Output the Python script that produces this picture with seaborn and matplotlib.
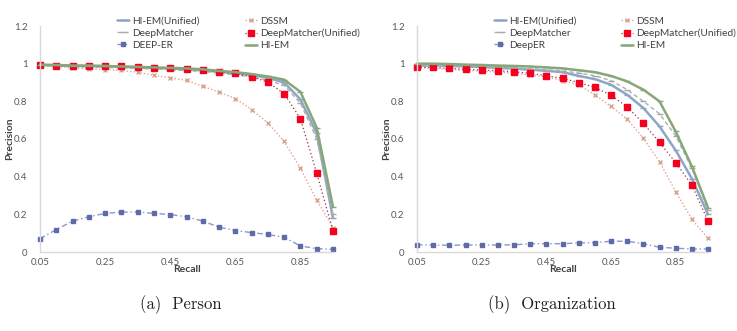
import numpy as np
import pandas as pd
import matplotlib
matplotlib.use("Agg")
import matplotlib.pyplot as plt
import seaborn as sns

recall = [0.05, 0.10, 0.15, 0.20, 0.25, 0.30, 0.35, 0.40, 0.45, 0.50,
          0.55, 0.60, 0.65, 0.70, 0.75, 0.80, 0.85, 0.90, 0.95]
xtick_vals = [0.05, 0.25, 0.45, 0.65, 0.85]
ytick_vals = [0, 0.2, 0.4, 0.6, 0.8, 1, 1.2]

# Person panel
p_hiem_unified = [0.993, 0.99, 0.988, 0.987, 0.985, 0.983, 0.98, 0.977, 0.974, 0.97,
                  0.965, 0.957, 0.95, 0.94, 0.925, 0.90, 0.81, 0.63, 0.18]
p_dssm = [0.99, 0.985, 0.978, 0.972, 0.968, 0.964, 0.955, 0.938, 0.925, 0.911,
          0.88, 0.849, 0.815, 0.756, 0.685, 0.587, 0.445, 0.276, 0.13]
p_deepmatcher = [0.99, 0.988, 0.985, 0.983, 0.98, 0.978, 0.975, 0.972, 0.968, 0.963,
                 0.958, 0.95, 0.94, 0.93, 0.912, 0.885, 0.79, 0.60, 0.20]
p_deepmatcher_unified = [0.995, 0.99, 0.985, 0.985, 0.985, 0.985, 0.98, 0.978, 0.975, 0.97,
                         0.968, 0.955, 0.948, 0.93, 0.902, 0.84, 0.708, 0.418, 0.112]
p_deeper = [0.071, 0.119, 0.164, 0.187, 0.205, 0.212, 0.212, 0.205, 0.199, 0.187,
            0.164, 0.132, 0.114, 0.103, 0.093, 0.078, 0.032, 0.018, 0.014]
p_hiem = [0.995, 0.993, 0.99, 0.99, 0.988, 0.985, 0.983, 0.98, 0.978, 0.975,
          0.97, 0.962, 0.955, 0.945, 0.932, 0.915, 0.85, 0.66, 0.24]

# Organization panel
o_hiem_unified = [0.99, 0.99, 0.988, 0.985, 0.982, 0.978, 0.974, 0.968, 0.962, 0.955,
                  0.935, 0.918, 0.888, 0.835, 0.765, 0.667, 0.54, 0.39, 0.20]
o_dssm = [0.98, 0.975, 0.97, 0.965, 0.96, 0.955, 0.95, 0.94, 0.93, 0.91,
          0.888, 0.835, 0.773, 0.706, 0.605, 0.48, 0.32, 0.174, 0.073]
o_deepmatcher = [0.995, 0.993, 0.99, 0.988, 0.985, 0.982, 0.978, 0.974, 0.968, 0.962,
                 0.95, 0.936, 0.91, 0.862, 0.80, 0.734, 0.617, 0.445, 0.223]
o_deepmatcher_unified = [0.98, 0.98, 0.975, 0.97, 0.966, 0.963, 0.957, 0.949, 0.936, 0.922,
                         0.90, 0.874, 0.833, 0.77, 0.684, 0.582, 0.475, 0.356, 0.165]
o_deeper = [0.038, 0.037, 0.036, 0.037, 0.037, 0.037, 0.038, 0.044, 0.044, 0.044,
            0.048, 0.05, 0.057, 0.057, 0.044, 0.025, 0.02, 0.016, 0.016]
o_hiem = [1.0, 1.0, 0.998, 0.995, 0.993, 0.99, 0.988, 0.985, 0.98, 0.975,
          0.965, 0.955, 0.935, 0.906, 0.862, 0.80, 0.64, 0.455, 0.235]

panels = [
    ("(a)  Person", "DEEP-ER",
     {"HI-EM(Unified)": p_hiem_unified, "DSSM": p_dssm, "DeepMatcher": p_deepmatcher,
      "DeepMatcher(Unified)": p_deepmatcher_unified, "DEEP-ER": p_deeper, "HI-EM": p_hiem}),
    ("(b)  Organization", "DeepER",
     {"HI-EM(Unified)": o_hiem_unified, "DSSM": o_dssm, "DeepMatcher": o_deepmatcher,
      "DeepMatcher(Unified)": o_deepmatcher_unified, "DeepER": o_deeper, "HI-EM": o_hiem}),
]

styles = {
    "HI-EM(Unified)": dict(color="#8EA6C6", lw=1.8, ls="-", marker="_", ms=4, mfc="#8EA6C6", mec="#8EA6C6"),
    "DSSM": dict(color="#EBA08F", lw=1.0, ls=(0, (1, 1.5)), marker="x", ms=3, mfc="#D9A88C", mec="#D3A58E"),
    "DeepMatcher": dict(color="#B0B0B0", lw=1.0, ls=(0, (3, 2)), marker="_", ms=4, mfc="#A8A8A8", mec="#A8A8A8"),
    "DeepMatcher(Unified)": dict(color="#9A3040", lw=0.9, ls=(0, (1, 2)), marker="s", ms=5, mfc="#F5001E", mec="#F5001E"),
    "DEEP-ER": dict(color="#8A96D2", lw=1.0, ls=(0, (4, 2, 1, 2)), marker="s", ms=3.5, mfc="#5F6AA8", mec="#5F6AA8"),
    "HI-EM": dict(color="#86A878", lw=1.8, ls="-", marker="_", ms=4, mfc="#86A878", mec="#86A878"),
}
styles["DeepER"] = styles["DEEP-ER"]

sns.set_theme(style="white")
plt.rcParams["font.family"] = ["Lato", "DejaVu Sans"]

fig = plt.figure(figsize=(7.37, 3.31), dpi=100)
axes_rects = [
    [40 / 737, 79 / 331, 293 / 737, 226 / 331],
    [417 / 737, 79 / 331, 291 / 737, 226 / 331],
]
caption_x = [181 / 737, 552 / 737]

for (caption, deeper_name, series), rect, cx in zip(panels, axes_rects, caption_x):
    ax = fig.add_axes(rect)
    df = pd.DataFrame({"Recall": recall, **series})
    handles = {}
    for name in series:
        st = styles[name]
        sns.lineplot(data=df, x="Recall", y=name, ax=ax, color=st["color"], linewidth=st["lw"],
                     linestyle=st["ls"], marker=st["marker"], markersize=st["ms"],
                     markerfacecolor=st["mfc"], markeredgecolor=st["mec"], markeredgewidth=1.0,
                     clip_on=False, label=name)
        handles[name] = ax.lines[-1]
    ax.set_xlim(0.05, 0.95)
    ax.set_ylim(0, 1.2)
    ax.set_xticks(xtick_vals)
    ax.set_xticklabels([f"{v:.2f}" for v in xtick_vals])
    ax.set_yticks(ytick_vals)
    ax.set_yticklabels(["0", "0.2", "0.4", "0.6", "0.8", "1", "1.2"])
    ax.tick_params(axis="both", labelsize=7, colors="#595959", length=0, pad=4)
    ax.tick_params(axis="y", pad=9)
    for s in ["top", "right"]:
        ax.spines[s].set_visible(False)
    for s in ["left", "bottom"]:
        ax.spines[s].set_color("#D9D9D9")
        ax.spines[s].set_linewidth(1.0)
    ax.set_xlabel("Recall", fontsize=7.5, fontweight="bold", color="#404040", labelpad=-1)
    ax.set_ylabel("Precision", fontsize=7.5, fontweight="bold", color="#404040")
    ax.yaxis.set_label_coords(-26 / (rect[2] * 737), 0.5)
    order = ["HI-EM(Unified)", "DeepMatcher", deeper_name, "DSSM", "DeepMatcher(Unified)", "HI-EM"]
    leg = ax.legend([handles[n] for n in order], order, ncol=2, loc="upper left",
                    bbox_to_anchor=(0.25, 1.06), frameon=False, fontsize=7.3,
                    handlelength=1.2, handletextpad=0.3, columnspacing=4.4, labelspacing=0.3,
                    borderaxespad=0)
    for t in leg.get_texts():
        t.set_color("#404040")
    fig.text(cx, 1 - 305 / 331, caption, ha="center", va="center", fontsize=12,
             family=["cmr10", "DejaVu Serif"], color="#202020")

fig.savefig("out.png", dpi=100)
